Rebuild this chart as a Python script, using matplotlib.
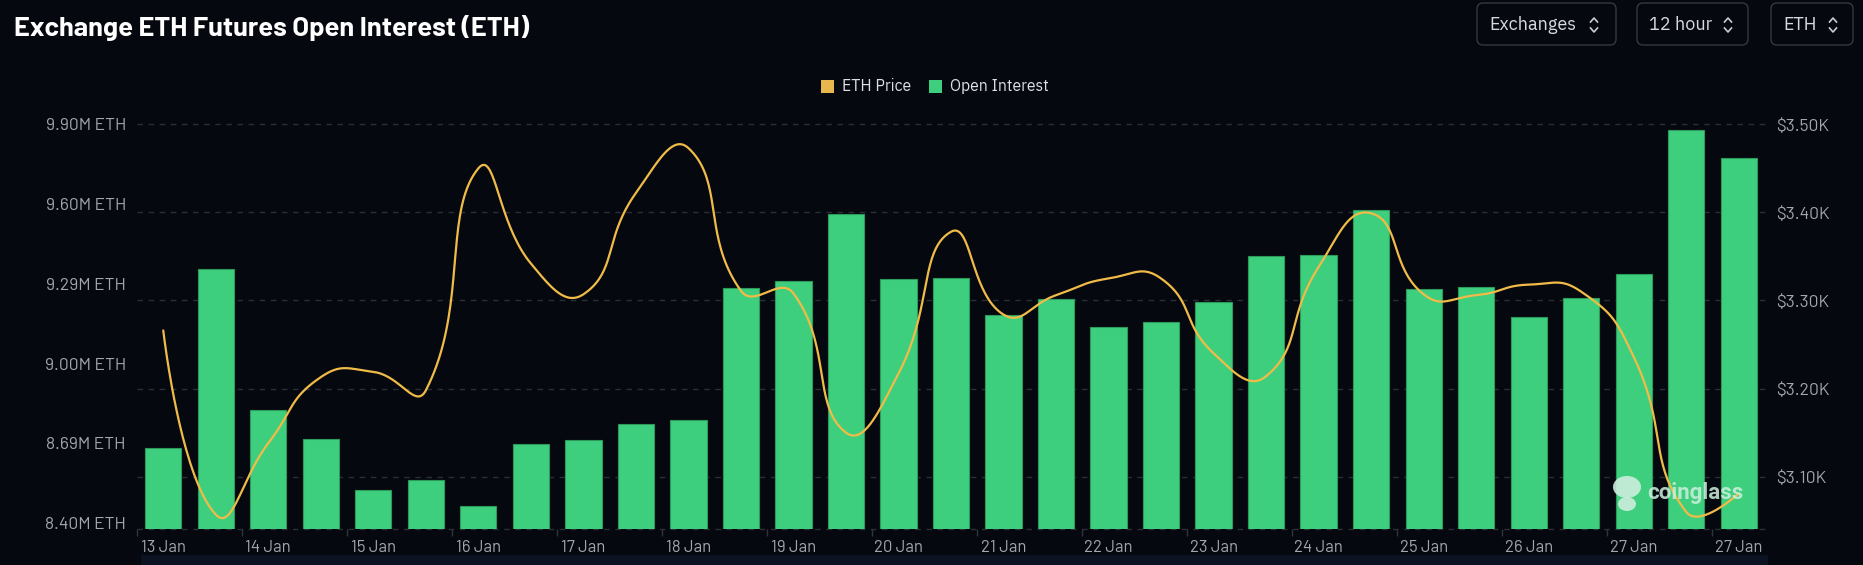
import matplotlib
matplotlib.use("Agg")
import matplotlib.pyplot as plt
import numpy as np
from matplotlib.patches import FancyBboxPatch, Rectangle, Ellipse
from matplotlib.lines import Line2D
from matplotlib.transforms import IdentityTransform, blended_transform_factory

# ---- data (12 hour intervals) ----
x_labels = ['13 Jan', '14 Jan', '15 Jan', '16 Jan', '17 Jan', '18 Jan', '19 Jan', '20 Jan',
            '21 Jan', '22 Jan', '23 Jan', '24 Jan', '25 Jan', '26 Jan', '27 Jan', '27 Jan']
open_interest = [8.681, 9.357, 8.824, 8.717, 8.523, 8.561, 8.463, 8.696, 8.711, 8.774, 8.786,
                 9.284, 9.311, 9.564, 9.317, 9.323, 9.181, 9.244, 9.139, 9.155, 9.233, 9.406,
                 9.407, 9.578, 9.280, 9.287, 9.176, 9.245, 9.337, 9.879, 9.774]   # M ETH
eth_price = [3266, 3057, 3138, 3213, 3219, 3198, 3450, 3342, 3307, 3422, 3473, 3311, 3308,
             3150, 3217, 3378, 3284, 3306, 3325, 3325, 3240, 3214, 3338, 3399, 3307, 3306,
             3318, 3310, 3236, 3060, 3081]   # USD
left_ticks = [8.40, 8.70, 9.00, 9.30, 9.60, 9.90]
left_tick_labels = ['8.40M ETH', '8.69M ETH', '9.00M ETH', '9.29M ETH', '9.60M ETH', '9.90M ETH']
right_ticks = [3100, 3200, 3300, 3400, 3500]
right_tick_labels = ['$3.10K', '$3.20K', '$3.30K', '$3.40K', '$3.50K']

BG = '#05080e'
BAR = '#3ecf7e'
BAR_EDGE = '#2b9a5b'
LINE = '#f0bb48'
TXT = '#a3a6ab'
GRID = '#2a2e35'
DIN = ['Barlow', 'Barlow Semi Condensed', 'DejaVu Sans']
UI = ['IBM Plex Sans', 'Roboto', 'DejaVu Sans']

W, H = 1863, 565
fig = plt.figure(figsize=(W / 100, H / 100), dpi=100, facecolor=BG)


def px(x0, y0, x1, y1):
    # pixel box (top-left origin) -> figure fraction rect
    return [x0 / W, 1 - y1 / H, (x1 - x0) / W, (y1 - y0) / H]


ax = fig.add_axes(px(137, 124.3, 1765, 529))
ax.set_facecolor(BG)
ax2 = ax.twinx()

n = len(open_interest)
xs = np.arange(n)

ax.bar(xs, open_interest, width=0.69, color=BAR, edgecolor=BAR_EDGE, linewidth=0.8, zorder=2)
ax.set_xlim(-0.5, n - 0.5)
ax.set_ylim(8.3774, 9.90)
ax2.set_ylim(3040.6, 3500)

# dashed grid from the price axis, drawn behind the bars
gtr = blended_transform_factory(ax.transAxes, ax2.transData)
for p in right_ticks + [3040.6]:
    ax.plot([0, 1], [p, p], transform=gtr, color=GRID, lw=1, ls=(0, (4, 4)), zorder=0,
            clip_on=False)

# smoothed price line (echarts-like bezier smoothing in screen space)
pts = ax2.transData.transform(np.column_stack([xs, eth_price]))
smooth = 0.5
cps = []
for i in range(n):
    p = pts[i]
    if i == 0 or i == n - 1:
        cps.append((p, p))
        continue
    prev, nxt = pts[i - 1], pts[i + 1]
    v = nxt - prev
    lp = np.hypot(*(p - prev))
    ln = np.hypot(*(nxt - p))
    r = ln / (ln + lp)
    cps.append((p - v * smooth * (1 - r), p + v * smooth * r))
curve = []
t = np.linspace(0, 1, 40)[:, None]
for i in range(n - 1):
    p0, c1, c2, p3 = pts[i], cps[i][1], cps[i + 1][0], pts[i + 1]
    seg = (1 - t) ** 3 * p0 + 3 * (1 - t) ** 2 * t * c1 + 3 * (1 - t) * t ** 2 * c2 + t ** 3 * p3
    curve.append(seg)
curve = ax2.transData.inverted().transform(np.vstack(curve))
ax2.plot(curve[:, 0], curve[:, 1], color=LINE, lw=1.6, solid_capstyle='round', zorder=3)

# axes styling
for a in (ax, ax2):
    for s in a.spines.values():
        s.set_visible(False)
ax.set_yticks(left_ticks)
ax.set_yticklabels(left_tick_labels, family=DIN, fontsize=12.5, color=TXT)
ax.tick_params(axis='y', length=0, pad=8)
ax2.set_yticks(right_ticks)
ax2.set_yticklabels(right_tick_labels, family=DIN, fontsize=12.5, color=TXT)
ax2.tick_params(axis='y', length=0, pad=8)
ax.set_xticks(xs[::2])
ax.set_xticklabels(x_labels, family=DIN, fontsize=12, color=TXT)
ax.set_xticks(np.arange(-0.5, n, 2), minor=True)
ax.tick_params(axis='x', which='major', length=0, pad=8)
ax.tick_params(axis='x', which='minor', length=5, color='#30343b', width=1)

# bottom slider strip
fig.add_artist(Rectangle((141, 0), 1627, 10, transform=IdentityTransform(),
                         facecolor='#0b1221', edgecolor='none'))

# title
fig.text(14 / W, 1 - 28 / H, 'Exchange ETH Futures Open Interest (ETH)', color='white',
         fontsize=19.6, weight='bold', family=DIN, va='center', ha='left')

# top-right selectors
buttons = [('Exchanges', 1477, 1616, 1489, 1594),
           ('12 hour', 1637, 1748, 1649, 1728),
           ('ETH', 1771, 1853, 1783, 1833)]
for label, x0, x1, tx, cx in buttons:
    fig.add_artist(FancyBboxPatch((x0, H - 45), x1 - x0, 42, transform=IdentityTransform(),
                                  boxstyle='round,pad=0,rounding_size=6',
                                  facecolor=BG, edgecolor='#343940', linewidth=1))
    fig.text(tx / W, 1 - 25 / H, label, color='#d6dae0', fontsize=13, family=UI,
             va='center', ha='left')
    yc = H - 25
    fig.add_artist(Line2D([cx - 3.5, cx, cx + 3.5], [yc + 3, yc + 7, yc + 3],
                          transform=IdentityTransform(), color='#c9cdd3', lw=1.2))
    fig.add_artist(Line2D([cx - 3.5, cx, cx + 3.5], [yc - 3, yc - 7, yc - 3],
                          transform=IdentityTransform(), color='#c9cdd3', lw=1.2))

# legend
for x0, col, label in [(821, '#e8b84f', 'ETH Price'), (929, BAR, 'Open Interest')]:
    fig.add_artist(Rectangle((x0, H - 93), 13, 13, transform=IdentityTransform(),
                             facecolor=col, edgecolor='none'))
    fig.text((x0 + 21) / W, 1 - 86.5 / H, label, color='#dcdfe3', fontsize=11.3, family=UI,
             va='center', ha='left')

# watermark
wm = '#cdeedd'
fig.add_artist(Ellipse((1627, H - 487), 28, 22, transform=IdentityTransform(),
                       facecolor=wm, edgecolor='none', alpha=0.9))
fig.add_artist(Ellipse((1627, H - 504), 18, 14, transform=IdentityTransform(),
                       facecolor=wm, edgecolor='none', alpha=0.9))
fig.text(1647 / W, 1 - 493 / H, 'coinglass', color=wm, alpha=0.85, fontsize=16,
         weight='bold', family=['Roboto', 'DejaVu Sans'], va='center', ha='left')

fig.savefig('out.png', dpi=100, facecolor=BG)
